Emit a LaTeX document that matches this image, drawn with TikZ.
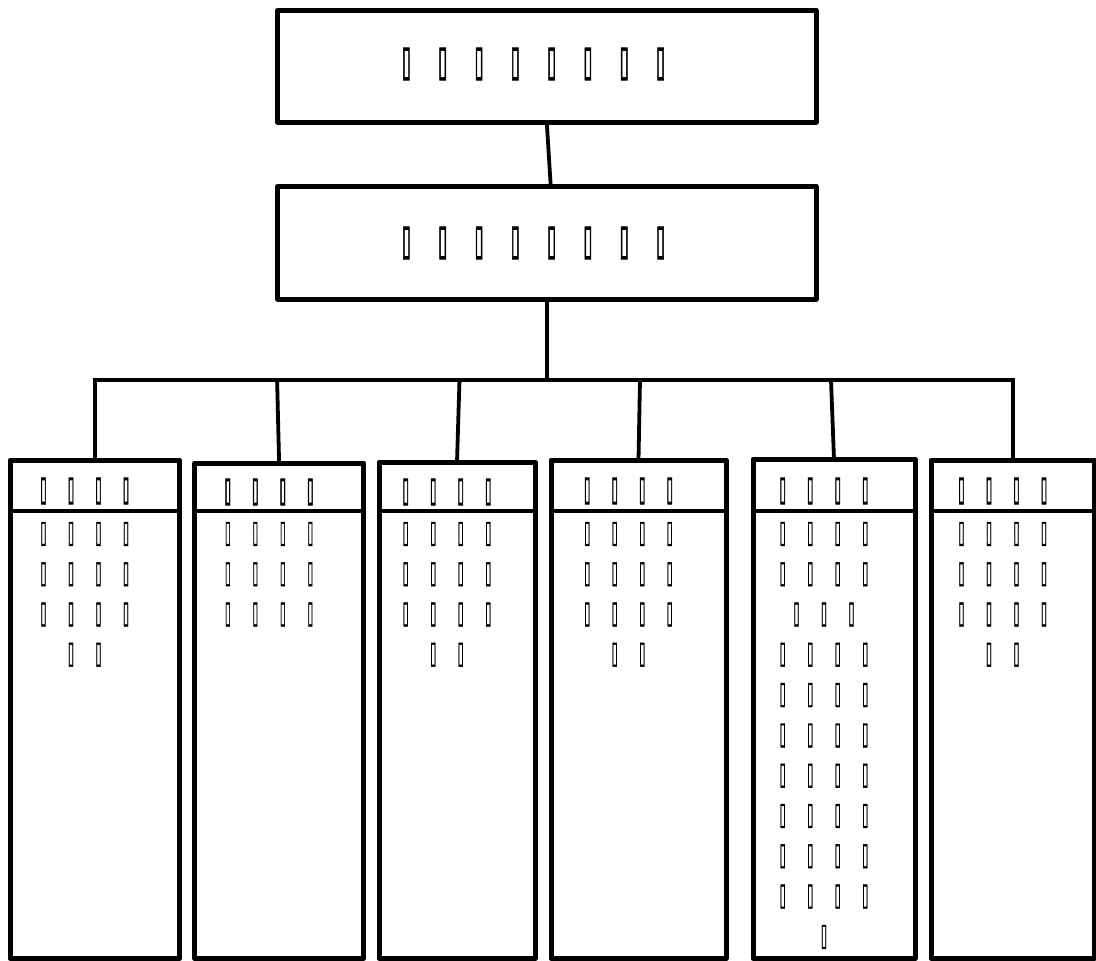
\documentclass[tikz,border=0pt]{standalone}
\usepackage{fontspec}
\usepackage{graphicx}
\newfontfamily\dvlight[FakeBold=1.5]{DejaVu Sans}
\newfontfamily\dvheavy[FakeBold=3]{DejaVu Sans}
\newcommand\tofuglyph[4]{\makebox[#1]{\resizebox{#2}{#3}{#4▯}}}
\newcommand\tofT{\tofuglyph{36.3pt}{9pt}{27pt}{\dvheavy}}
\newcommand\tofH{\tofuglyph{27.5pt}{6.5pt}{22pt}{\dvheavy}}
\newcommand\tofB{\tofuglyph{27.5pt}{6pt}{20pt}{\dvlight}}
\newcommand\rowF{\tofB\tofB\tofB\tofB}
\newcommand\rowH{\tofH\tofH\tofH\tofH}
\begin{document}
\begin{tikzpicture}[x=1pt,y=-1pt,
  bigbox/.style={draw, line width=5pt, line join=round, outer sep=0pt, minimum width=538.5pt, minimum height=111.5pt, anchor=north west, inner sep=0pt},
  colbox/.style={draw, line width=5pt, line join=round, outer sep=0pt, anchor=north west, inner sep=0pt},
  link/.style={line width=3.8pt},
  sepline/.style={line width=3.5pt},
  txt/.style={inner sep=0pt, outer sep=0pt, align=center, font={\fontsize{20pt}{40.3pt}\selectfont}}]
\useasboundingbox[fill=white] (0,0) rectangle (1096,961);
% top boxes
\node[bigbox] (top) at (277.5,10.5) {};
\node[bigbox, minimum height=112.5pt] (mid) at (277.5,186.5) {};
\node[txt] (toptxt) at (533.5,64) {\tofT\tofT\tofT\tofT\tofT\tofT\tofT\tofT};
\node[txt] (midtxt) at (533.5,243) {\tofT\tofT\tofT\tofT\tofT\tofT\tofT\tofT};
% columns
\node[colbox, minimum width=169.5pt, minimum height=498.5pt] (b1) at (10,460) {};
\node[colbox, minimum width=168.8pt, minimum height=495.5pt] (b2) at (194.7,463) {};
\node[colbox, minimum width=156pt, minimum height=496.5pt] (b3) at (379,462) {};
\node[colbox, minimum width=175pt, minimum height=498.5pt] (b4) at (551,460) {};
\node[colbox, minimum width=162pt, minimum height=499.5pt] (b5) at (753,459) {};
\node[colbox, minimum width=163.5pt, minimum height=498.5pt] (b6) at (931,460) {};
\coordinate (sep) at (0,511);
\coordinate (bus) at (0,380);
\foreach \b in {b1,b2,b3,b4,b5,b6}{
  \draw[sepline] (\b.west |- sep) -- (\b.east |- sep);
}
% connectors
\draw[link] (top.south) -- ([xshift=4pt]mid.north);
\draw[link] (mid.south) -- (mid.south |- bus);
\draw[link, line join=miter] (b1.north) -- (b1.north |- bus) -- (b6.north |- bus) -- (b6.north);
\draw[link] ([xshift=-2pt]b2.north |- bus) -- (b2.north);
\draw[link] ([xshift=2.5pt]b3.north |- bus) -- (b3.north);
\draw[link] ([xshift=1.5pt]b4.north |- bus) -- (b4.north);
\draw[link] ([xshift=-3pt]b5.north |- bus) -- (b5.north);
% headers
\node[txt] (h1) at (84.75,491) {\rowH};
\node[txt] (h2) at (269.1,492) {\rowH};
\node[txt] (h3) at (447,492) {\rowH};
\node[txt] (h4) at (628.5,491) {\rowH};
\node[txt] (h5) at (824,491) {\rowH};
\node[txt] (h6) at (1002.75,491) {\rowH};
% bodies
\node[txt, anchor=north] (t1) at (84.75,522) {\rowF\\\rowF\\\rowF\\\tofB\tofB};
\node[txt, anchor=north] (t2) at (269.1,522) {\rowF\\\rowF\\\rowF};
\node[txt, anchor=north] (t3) at (447,522) {\rowF\\\rowF\\\rowF\\\tofB\tofB};
\node[txt, anchor=north] (t4) at (628.5,522) {\rowF\\\rowF\\\rowF\\\tofB\tofB};
\node[txt, anchor=north] (t5) at (824,522) {\rowF\\\rowF\\\tofB\tofB\tofB\\\rowF\\\rowF\\\rowF\\\rowF\\\rowF\\\rowF\\\rowF\\\tofB};
\node[txt, anchor=north] (t6) at (1002.75,522) {\rowF\\\rowF\\\rowF\\\tofB\tofB};
\end{tikzpicture}
\end{document}
